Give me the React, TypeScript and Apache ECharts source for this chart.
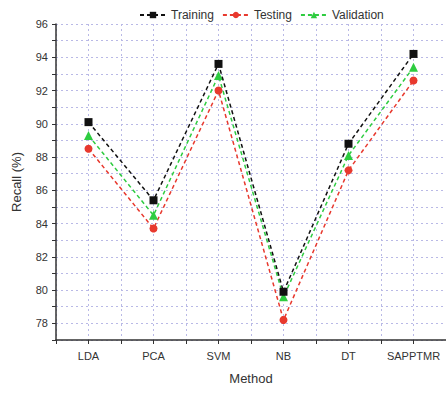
import React, { useEffect, useRef } from "react";
import * as echarts from "echarts";

const categories = ["LDA", "PCA", "SVM", "NB", "DT", "SAPPTMR"];
const training = [90.1, 85.4, 93.6, 79.9, 88.8, 94.2];
const testing = [88.5, 83.7, 92.0, 78.2, 87.2, 92.6];
const validation = [89.3, 84.5, 92.9, 79.6, 88.1, 93.4];

export default function App() {
  const ref = useRef<HTMLDivElement>(null);
  useEffect(() => {
    if (!ref.current) return;
    const chart = echarts.init(ref.current, undefined, { renderer: "svg" });
    const font = "Liberation Sans, Arial, sans-serif";
    const grid = { type: [2, 3], color: "#b9b9e6", width: 1 };
    chart.setOption({
      animation: false,
      textStyle: { fontFamily: font },
      grid: { left: 56, right: -6, top: 24, bottom: 56, containLabel: false },
      legend: {
        top: 4,
        left: 134,
        itemWidth: 26,
        itemHeight: 8,
        itemGap: 8,
        textStyle: { fontSize: 12, color: "#333", fontFamily: font },
        data: ["Training", "Testing", "Validation"],
      },
      xAxis: [
        {
          type: "category",
          data: categories,
          boundaryGap: true,
          name: "Method",
          nameLocation: "middle",
          nameGap: 32,
          nameTextStyle: { fontSize: 13, color: "#333" },
          axisLine: { lineStyle: { color: "#333", width: 1.5 } },
          axisTick: { show: false },
          axisLabel: { fontSize: 11, color: "#333", margin: 10, interval: 0 },
          splitLine: { show: false },
        },
        {
          type: "value",
          min: 0,
          max: 12,
          interval: 1,
          position: "bottom",
          axisLine: { show: false },
          axisLabel: { show: false },
          axisTick: { show: true, inside: false, length: 4, lineStyle: { color: "#333", width: 1 } },
          splitLine: { show: true, lineStyle: grid },
        },
      ],
      yAxis: {
        type: "value",
        min: 77,
        max: 96,
        interval: 1,
        name: "Recall (%)",
        nameLocation: "middle",
        nameGap: 33,
        nameTextStyle: { fontSize: 13, color: "#333" },
        axisLine: { show: true, lineStyle: { color: "#333", width: 1.5 } },
        axisTick: { show: true, length: 4, lineStyle: { color: "#333" } },
        axisLabel: {
          fontSize: 11,
          color: "#333",
          margin: 8,
          formatter: (v: number) => (v % 2 === 0 ? String(v) : ""),
        },
        splitLine: { show: true, lineStyle: grid },
      },
      series: [
        {
          name: "Training",
          type: "line",
          data: training,
          symbol: "rect",
          symbolSize: 8,
          itemStyle: { color: "#111111" },
          lineStyle: { color: "#111111", width: 1.5, type: [4, 3] },
          z: 3,
        },
        {
          name: "Testing",
          type: "line",
          data: testing,
          symbol: "circle",
          symbolSize: 8,
          itemStyle: { color: "#e8392e" },
          lineStyle: { color: "#e8392e", width: 1.5, type: [4, 3] },
          z: 2,
        },
        {
          name: "Validation",
          type: "line",
          data: validation,
          symbol: "triangle",
          symbolSize: 9,
          itemStyle: { color: "#2ecc40" },
          lineStyle: { color: "#2ecc40", width: 1.5, type: [4, 3] },
          z: 2,
        },
      ],
    });
    return () => chart.dispose();
  }, []);
  return <div ref={ref} style={{ width: 446, height: 396, position: "absolute", left: 0, top: 0 }} />;
}
